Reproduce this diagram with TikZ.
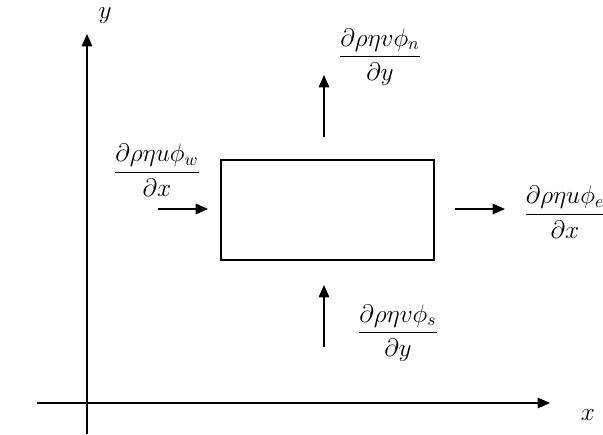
\documentclass[tikz,border=0pt]{standalone}
\usepackage{amsmath,amssymb}
\usetikzlibrary{arrows.meta}
\tikzset{flux/.style = {-{Triangle[length=7pt, width=6pt]}}}
\tikzset{frac/.style = {inner sep = 0, font = \Large}}
\tikzset{every picture/.style={
    every path/.style={thick},
}}

\begin{document}
\begin{tikzpicture}[x=0.02cm, y=-0.02cm]
    \useasboundingbox (0,0) rectangle (603,434);

    % axes
    \coordinate (xs) at (37,403);
    \coordinate (xe) at (550,403);
    \coordinate (ys) at (87,434);
    \coordinate (ye) at (87,34);
    \draw[flux] (xs) -- (xe);
    \draw[flux] (ys) -- (ye);
    \node (xl) at (588,415) {\Large $x$};
    \node (yl) at (105,16) {\Large $y$};

    % control volume
    \node[draw, minimum width = 4.26cm, minimum height = 2cm, inner sep = 0] (cv) at (327.5,210) {};

    % fluxes
    \coordinate (w1) at (158,209);
    \coordinate (w2) at (208,209);
    \coordinate (e1) at (455,209);
    \coordinate (e2) at (505,209);
    \coordinate (n1) at (324,137);
    \coordinate (n2) at (324,75);
    \coordinate (s1) at (324,347);
    \coordinate (s2) at (324,285);
    \draw[flux] (w1) -- (w2);
    \draw[flux] (e1) -- (e2);
    \draw[flux] (n1) -- (n2);
    \draw[flux] (s1) -- (s2);

    \node[frac] (fw) at (157,170) {$\dfrac{\partial\rho\eta u\phi_w}{\partial x}$};
    \node[frac] (fe) at (565,212) {$\dfrac{\partial\rho\eta u\phi_e}{\partial x}$};
    \node[frac] (fn) at (380,57) {$\dfrac{\partial\rho\eta v\phi_n}{\partial y}$};
    \node[frac] (fs) at (398,333) {$\dfrac{\partial\rho\eta v\phi_s}{\partial y}$};
  \end{tikzpicture}
\end{document}
